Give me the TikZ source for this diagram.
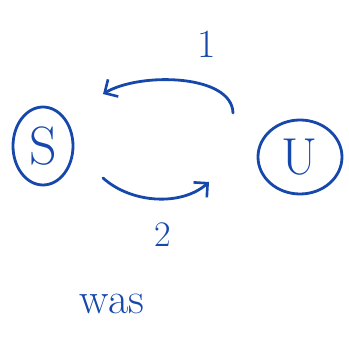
\documentclass[tikz,border=0pt]{standalone}
\usetikzlibrary{arrows.meta,shapes.geometric}
\definecolor{ink}{RGB}{22,72,172}
\begin{document}
\begin{tikzpicture}[x=1pt,y=-1pt,
  ink line/.style={draw=ink,line width=2.8pt,line cap=round,line join=round},
  state/.style={ellipse,ink line,inner sep=0pt,text=ink},
  lbl/.style={text=ink,inner sep=0pt},
  arr/.style={ink line,-{Straight Barb[length=10pt,width=20pt,line width=2.6pt]}}]
\useasboundingbox (0,0) rectangle (349,342);
\node[state,minimum width=60pt,minimum height=78pt,font=\fontsize{54}{54}\selectfont] (S) at (43,146) {S};
\node[state,minimum width=84pt,minimum height=74pt,font=\fontsize{52}{52}\selectfont] (U) at (300,157) {U};
\coordinate (t1) at (233,113);
\coordinate (t2) at (103,94);
\coordinate (b1) at (103,178);
\coordinate (b2) at (209,182);
\draw[arr] (t1) .. controls (232,74) and (140,72) .. (t2);
\draw[arr] (b1) .. controls (132,204) and (182,206) .. (b2);
\node[lbl,font=\fontsize{40}{40}\selectfont] (one) at (207,44) {1};
\node[lbl,font=\fontsize{36}{36}\selectfont] (two) at (163,235) {2};
\node[lbl,font=\fontsize{44}{44}\selectfont] (was) at (112,304) {was};
\end{tikzpicture}
\end{document}
